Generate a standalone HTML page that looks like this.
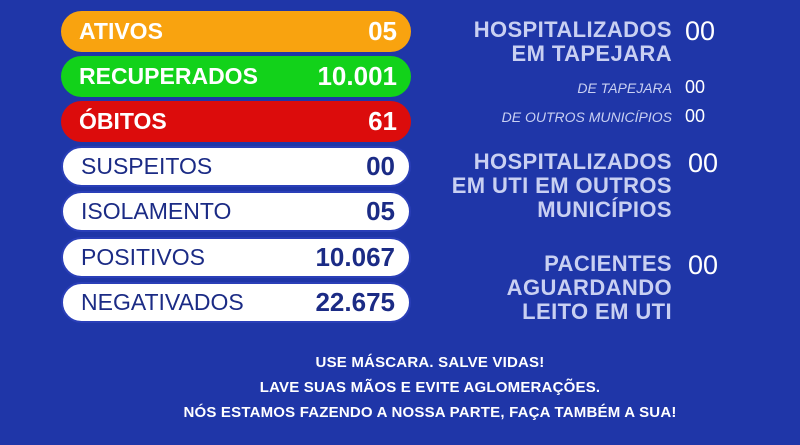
<!DOCTYPE html>
<html><head><meta charset="utf-8"><style>
body{margin:0;width:800px;height:445px;background:#1f36a8;font-family:"Liberation Sans",sans-serif;position:relative;overflow:hidden}
.p{position:absolute;left:61px;width:350px;height:41px;border-radius:21px;box-sizing:border-box;display:flex;justify-content:space-between;align-items:center;padding:0 14px 0 18px;font-size:23px}
.c{color:#fff;font-weight:bold}
.c span{font-size:26px}
.w{background:#fff;color:#1b2b85;border:2px solid #2a3fb8;font-size:23px}
.w b{font-size:26px}
.r{position:absolute;color:#c9d0f2;font-weight:bold;text-align:right;right:128px;font-size:22px;line-height:24px;letter-spacing:0.4px}
.s{position:absolute;color:#c9d0f2;font-style:italic;text-align:right;right:128px;font-size:14px}
.n{position:absolute;color:#fff;font-size:27px;left:685px}
.ns{position:absolute;color:#fff;font-size:18px;left:685px}
.b{position:absolute;left:0;width:860px;text-align:center;color:#fff;font-weight:bold;font-size:15px;letter-spacing:0.2px}
</style></head><body>
<div class="p c" style="top:11px;background:#f9a30f">ATIVOS<span>05</span></div>
<div class="p c" style="top:56px;background:#12d21a">RECUPERADOS<span>10.001</span></div>
<div class="p c" style="top:101px;background:#dc0c0c">ÓBITOS<span>61</span></div>
<div class="p w" style="top:146px">SUSPEITOS<b>00</b></div>
<div class="p w" style="top:191px">ISOLAMENTO<b>05</b></div>
<div class="p w" style="top:237px">POSITIVOS<b>10.067</b></div>
<div class="p w" style="top:282px">NEGATIVADOS<b>22.675</b></div>

<div class="r" style="top:18px">HOSPITALIZADOS<br>EM TAPEJARA</div>
<div class="n" style="top:16px">00</div>
<div class="s" style="top:80px">DE TAPEJARA</div>
<div class="ns" style="top:77px">00</div>
<div class="s" style="top:109px">DE OUTROS MUNICÍPIOS</div>
<div class="ns" style="top:106px">00</div>
<div class="r" style="top:150px">HOSPITALIZADOS<br>EM UTI EM OUTROS<br>MUNICÍPIOS</div>
<div class="n" style="top:148px;left:688px">00</div>
<div class="r" style="top:252px">PACIENTES<br>AGUARDANDO<br>LEITO EM UTI</div>
<div class="n" style="top:250px;left:688px">00</div>

<div class="b" style="top:354px">USE MÁSCARA. SALVE VIDAS!</div>
<div class="b" style="top:379px">LAVE SUAS MÃOS E EVITE AGLOMERAÇÕES.</div>
<div class="b" style="top:404px">NÓS ESTAMOS FAZENDO A NOSSA PARTE, FAÇA TAMBÉM A SUA!</div>
</body></html>
